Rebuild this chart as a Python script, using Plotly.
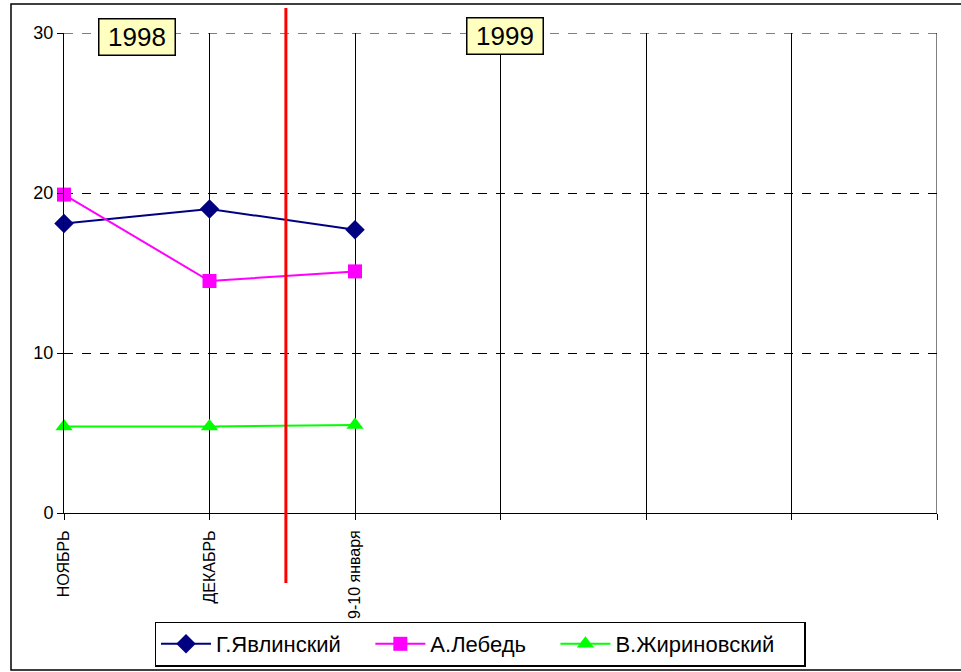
import plotly.graph_objects as go

categories = ["НОЯБРЬ", "ДЕКАБРЬ", "9-10 января", "", "", "", ""]
x_pos = [0, 1, 2, 3, 4, 5, 6]
yavlinsky = [18.1, 19.0, 17.7]
lebed = [19.9, 14.5, 15.1]
zhirinovsky = [5.4, 5.4, 5.5]
series_names = ["Г.Явлинский", "А.Лебедь", "В.Жириновский"]

W, H = 961, 672
L, R, T, B = 64, 24, 33, 159
pw, ph = W - L - R, H - T - B
PAD = "\u00a0" * 4  # spacing after each legend entry

def px_x(p):
    return (p - L) / pw

def px_y(p):
    return (H - B - p) / ph

fig = go.Figure()
fig.add_trace(go.Scatter(x=x_pos[:3], y=yavlinsky, name=series_names[0] + PAD, mode="lines+markers",
                         line=dict(color="#000080", width=2),
                         marker=dict(symbol="diamond", size=15, color="#000080"), cliponaxis=False))
fig.add_trace(go.Scatter(x=x_pos[:3], y=lebed, name=series_names[1] + PAD, mode="lines+markers",
                         line=dict(color="#FF00FF", width=2),
                         marker=dict(symbol="square", size=14, color="#FF00FF"), cliponaxis=False))
fig.add_trace(go.Scatter(x=x_pos[:3], y=zhirinovsky, name=series_names[2] + PAD, mode="lines+markers",
                         line=dict(color="#00FF00", width=2),
                         marker=dict(symbol="triangle-up", size=15, color="#00FF00"), cliponaxis=False))

shapes = []
# edge gridlines that plotly omits: top (30) dashed and right-most category line
shapes.append(dict(type="line", xref="paper", yref="y", x0=0, x1=1, y0=30, y1=30,
                   line=dict(color="black", width=1, dash="dash"), layer="below"))
shapes.append(dict(type="line", xref="x", yref="paper", x0=x_pos[-1], x1=x_pos[-1], y0=0, y1=1,
                   line=dict(color="black", width=1), layer="below"))
shapes.append(dict(type="line", xref="x", yref="paper", x0=1.525, x1=1.525,
                   y0=px_y(583), y1=px_y(8), line=dict(color="#FF0000", width=3)))
shapes.append(dict(type="rect", xref="paper", yref="paper", x0=px_x(11), x1=px_x(965),
                   y0=px_y(670), y1=px_y(4), line=dict(color="black", width=1.5)))

fig.update_layout(
    width=W, height=H,
    margin=dict(l=L, r=R, t=T, b=B, autoexpand=False),
    paper_bgcolor="white", plot_bgcolor="white",
    font=dict(family="Arial, Liberation Sans, sans-serif", color="black"),
    shapes=shapes,
    showlegend=True,
    legend=dict(orientation="h", x=px_x(480), y=px_y(644), xanchor="center", yanchor="middle",
                bordercolor="black", borderwidth=1.5, font=dict(size=22),
                itemwidth=50, tracegroupgap=0),
    annotations=[
        dict(text="1998", x=0.5, y=px_y(37), xref="x", yref="paper", showarrow=False,
             bgcolor="#FFFFC0", bordercolor="black", borderwidth=1.5, borderpad=1.5,
             width=72, height=32,
             font=dict(size=26), xanchor="center", yanchor="middle"),
        dict(text="1999", x=3.03, y=px_y(36), xref="x", yref="paper", showarrow=False,
             bgcolor="#FFFFC0", bordercolor="black", borderwidth=1.5, borderpad=1.5,
             width=72, height=32,
             font=dict(size=26), xanchor="center", yanchor="middle"),
    ],
)
fig.update_xaxes(range=[0, 6], tickvals=x_pos, ticktext=categories, tickangle=-90,
                 showgrid=True, gridcolor="black", gridwidth=1,
                 zeroline=False, showline=True, linecolor="black", linewidth=1,
                 ticks="outside", ticklen=6, tickcolor="black", tickfont=dict(size=16),
                 ticklabelstandoff=4)
fig.update_yaxes(range=[0, 30], tickvals=[0, 10, 20, 30],
                 showgrid=True, gridcolor="black", gridwidth=1, griddash="dash",
                 zeroline=False, showline=True, linecolor="black", linewidth=1, ticks="outside",
                 ticklen=6, tickcolor="black", tickfont=dict(size=18))

fig.write_html("out.html", config={"displayModeBar": False},
               post_script="document.body.style.margin='0px';document.body.style.overflow='hidden';")
